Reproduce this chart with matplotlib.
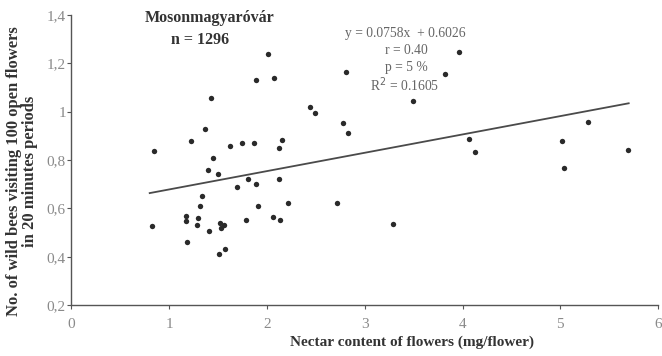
import matplotlib
matplotlib.use("Agg")
import matplotlib.pyplot as plt
import numpy as np

plt.rcParams['font.family'] = ['Liberation Serif', 'DejaVu Serif']

# Data
nectar = [0.841, 0.821, 1.225, 1.167, 1.167, 1.185, 1.290, 1.282, 1.317, 1.337,
          1.368, 1.422, 1.445, 1.399, 1.496, 1.402, 1.521, 1.555, 1.534, 1.514,
          1.575, 1.626, 1.745, 1.867, 1.697, 1.782, 1.809, 1.888, 1.911, 1.891,
          2.074, 2.013, 2.061, 2.133, 2.118, 2.149, 2.118, 2.210, 2.441, 2.495,
          2.720, 2.775, 2.829, 2.805, 3.284, 3.494, 3.825, 3.960, 4.067, 4.125,
          5.017, 5.041, 5.285, 5.696]
bees = [0.837, 0.527, 0.879, 0.569, 0.549, 0.459, 0.560, 0.530, 0.608, 0.650,
        0.928, 1.058, 0.808, 0.759, 0.741, 0.507, 0.541, 0.531, 0.520, 0.411,
        0.432, 0.859, 0.870, 0.869, 0.689, 0.550, 0.721, 0.701, 0.610, 1.130,
        1.140, 1.240, 0.563, 0.552, 0.851, 0.881, 0.721, 0.621, 1.020, 0.993,
        0.622, 0.953, 0.912, 1.163, 0.535, 1.044, 1.155, 1.245, 0.887, 0.835,
        0.878, 0.769, 0.957, 0.840]

slope = 0.0758
intercept = 0.6026
fit_range = [0.8, 5.7]

x_ticks = [0, 1, 2, 3, 4, 5, 6]
y_ticks = [0.2, 0.4, 0.6, 0.8, 1.0, 1.2, 1.4]
y_tick_labels = ["0,2", "0,4", "0,6", "0,8", "1", "1,2", "1,4"]

fig = plt.figure(figsize=(6.62, 3.56), dpi=100)
ax = fig.add_axes([0.108, 0.143, 0.886, 0.815])

ax.scatter(nectar, bees, s=15, color='#2a2a2a', zorder=3, linewidths=0)

fx = np.array(fit_range)
ax.plot(fx, slope * fx + intercept, color='#4a4a4a', lw=1.3, zorder=2)

ax.set_xlim(0, 6)
ax.set_ylim(0.2, 1.4)
ax.set_xticks(x_ticks)
ax.set_xticklabels([str(t) for t in x_ticks])
ax.set_yticks(y_ticks)
ax.set_yticklabels(y_tick_labels)

for s in ['top', 'right']:
    ax.spines[s].set_visible(False)
for s in ['left', 'bottom']:
    ax.spines[s].set_color('#555555')
    ax.spines[s].set_linewidth(1.0)

ax.tick_params(axis='both', direction='out', length=3, width=0.8,
               colors='#555555', labelcolor='#8a8a8a', labelsize=11)
ax.tick_params(axis='x', pad=6)
ax.tick_params(axis='y', pad=1)

ax.set_xlabel("Nectar content of flowers (mg/flower)", fontsize=11,
              fontweight='bold', color='#333333')
ax.xaxis.set_label_coords(0.58, -0.105)
ax.set_ylabel("No. of wild bees visiting 100 open flowers\nin 20 minutes periods",
              fontsize=12, fontweight='bold', color='#333333',
              linespacing=1.0)
ax.yaxis.set_label_coords(-0.057, 0.462)


def fig_xy(px, py):
    return px / 662.0, 1 - py / 356.0


fig.text(*fig_xy(210, 18), "Mosonmagyaróvár", ha='center', va='center',
         fontsize=11.5, fontweight='bold', color='#333333')
fig.text(*fig_xy(200, 40), "n = 1296", ha='center', va='center',
         fontsize=11.5, fontweight='bold', color='#333333')

fig.text(*fig_xy(405, 33), "y = 0.0758x  + 0.6026", ha='center', va='center',
         fontsize=9.8, color='#666666')
fig.text(*fig_xy(406, 50), "r = 0.40", ha='center', va='center',
         fontsize=9.8, color='#666666')
fig.text(*fig_xy(406, 67), "p = 5 %", ha='center', va='center',
         fontsize=9.8, color='#666666')
fig.text(*fig_xy(405, 85), "R$^2$ = 0.1605", ha='center', va='center',
         fontsize=9.8, color='#666666')

fig.savefig("out.png", dpi=100)
